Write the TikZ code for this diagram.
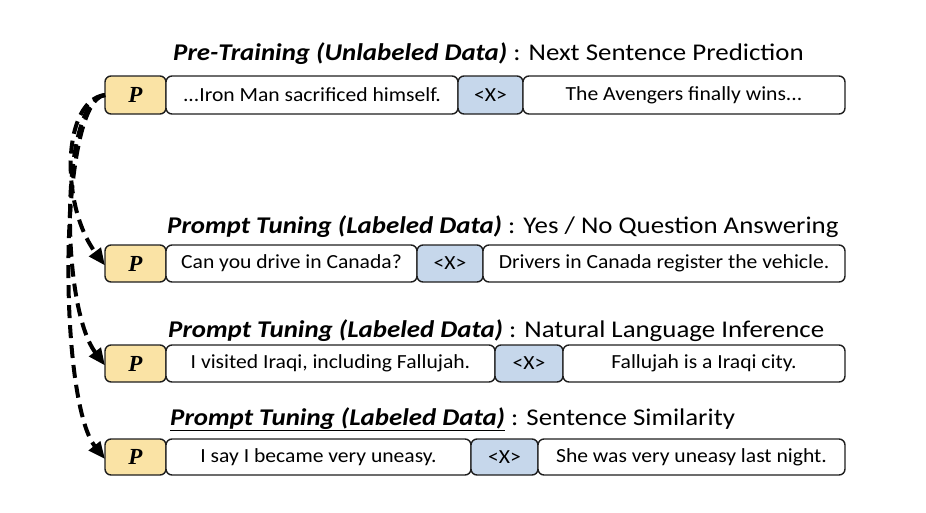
\documentclass[tikz,border=0pt]{standalone}
\usepackage{fontspec}
\setmainfont{Carlito}[FakeStretch=1.08]
\newfontfamily\ttlfont{Carlito}[FakeStretch=1.12]
\newfontfamily\pfont{Liberation Serif}
\usetikzlibrary{arrows.meta}
\definecolor{pyellow}{HTML}{FAE3A5}
\definecolor{xblue}{HTML}{C6D7EB}
\definecolor{boxline}{HTML}{1E1E1E}
\tikzset{
  cell/.style={draw=boxline, line width=1.4pt, rounded corners=6pt, inner sep=0pt, outer sep=0pt, font=\fontsize{20}{22}\selectfont, text=black},
  pcell/.style={cell, fill=pyellow, font=\pfont\bfseries\itshape\fontsize{23}{25}\selectfont},
  xcell/.style={cell, fill=xblue},
  tcell/.style={cell, fill=white},
  ttl/.style={anchor=base west, inner sep=0pt, font=\ttlfont\fontsize{24}{28}\selectfont},
  flow/.style={line width=4pt, dash pattern=on 13pt off 7pt, -{Triangle[length=17pt,width=14pt]}}
}
\begin{document}
\begin{tikzpicture}[x=1pt,y=-1pt]
\useasboundingbox (0,0) rectangle (926,512);
% Row 1
\node[ttl] (t1) at (173,60) {\textbf{\textit{Pre-Training (Unlabeled Data)}} : Next Sentence Prediction};
\node[pcell, minimum width=61pt, minimum height=38pt] (p1) at (135.5,95) {P};
\node[tcell, minimum width=292pt, minimum height=38pt] (a1) at (312,95) {...Iron Man sacrificed himself.};
\node[xcell, minimum width=65pt, minimum height=38pt] (x1) at (490.5,95) {<X>};
\node[tcell, minimum width=322pt, minimum height=38pt] (b1) at (684,95) {The Avengers finally wins...};
% Row 2
\node[ttl] (t2) at (167,233) {\textbf{\textit{Prompt Tuning (Labeled Data)}} : Yes / No Question Answering};
\node[pcell, minimum width=61pt, minimum height=37pt] (p2) at (135.5,263.5) {P};
\node[tcell, minimum width=251pt, minimum height=37pt] (a2) at (291.5,263.5) {Can you drive in Canada?};
\node[xcell, minimum width=66pt, minimum height=37pt] (x2) at (450,263.5) {<X>};
\node[tcell, minimum width=362pt, minimum height=37pt] (b2) at (664,263.5) {Drivers in Canada register the vehicle.};
% Row 3
\node[ttl] (t3) at (168,337) {\textbf{\textit{Prompt Tuning (Labeled Data)}} : Natural Language Inference};
\node[pcell, minimum width=61pt, minimum height=37pt] (p3) at (135.5,363.5) {P};
\node[tcell, minimum width=329pt, minimum height=37pt] (a3) at (330.5,363.5) {I visited Iraqi, including Fallujah.};
\node[xcell, minimum width=68pt, minimum height=37pt] (x3) at (529,363.5) {<X>};
\node[tcell, minimum width=282pt, minimum height=37pt] (b3) at (704,363.5) {Fallujah is a Iraqi city.};
% Row 4
\node[ttl] (t4) at (170,425) {\underline{\textbf{\textit{Prompt Tuning (Labeled Data)}}} : Sentence Similarity};
\node[pcell, minimum width=61pt, minimum height=36pt] (p4) at (135.5,457) {P};
\node[tcell, minimum width=305pt, minimum height=36pt] (a4) at (318.5,457) {I say I became very uneasy.};
\node[xcell, minimum width=67pt, minimum height=36pt] (x4) at (504.5,457) {<X>};
\node[tcell, minimum width=307pt, minimum height=36pt] (b4) at (691.5,457) {She was very uneasy last night.};
% Arrows
\draw[flow] (p1.west) .. controls (62,100) and (60,205) .. ([yshift=-2pt]p2.west);
\draw[flow] (p1.west) .. controls (60,100) and (60,305) .. ([yshift=-2pt]p3.west);
\draw[flow] (p1.west) .. controls (58,100) and (58,400) .. ([yshift=-2pt]p4.west);
\end{tikzpicture}
\end{document}
